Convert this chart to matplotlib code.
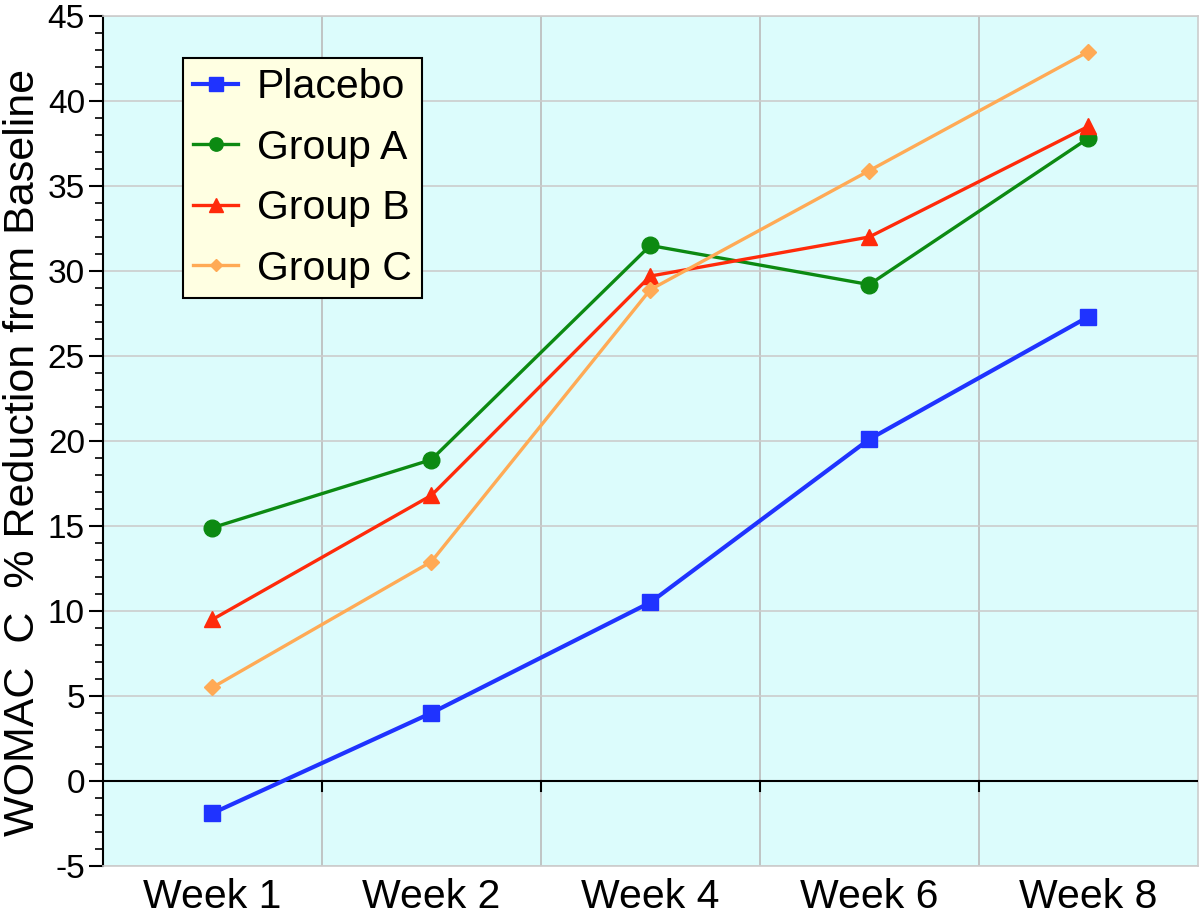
import numpy as np
import matplotlib
matplotlib.use("Agg")
import matplotlib.pyplot as plt
from matplotlib.ticker import MultipleLocator

plt.rcParams['font.family'] = ['Liberation Sans', 'DejaVu Sans']
plt.rcParams['axes.unicode_minus'] = False

weeks = ["Week 1", "Week 2", "Week 4", "Week 6", "Week 8"]
placebo = [-1.9, 4.0, 10.5, 20.1, 27.3]
group_a = [14.9, 18.9, 31.5, 29.2, 37.8]
group_b = [9.5, 16.8, 29.7, 32.0, 38.5]
group_c = [5.5, 12.9, 28.9, 35.9, 42.9]

fig = plt.figure(figsize=(12, 9.24), dpi=100)
ax = fig.add_axes([0.0858, 0.0628, 0.9122, 0.9199])
ax.set_facecolor('#dcfcfc')

x = np.arange(len(weeks))
ax.plot(x, placebo, color='#1f33ff', lw=3, marker='s', ms=12, label='Placebo', zorder=5)
ax.plot(x, group_a, color='#0c8a12', lw=2.4, marker='o', ms=12, label='Group A', zorder=5)
ax.plot(x, group_b, color='#ff2a0a', lw=2.4, marker='^', ms=12, label='Group B', zorder=5)
ax.plot(x, group_c, color='#ffaa55', lw=2.4, marker='D', ms=8, label='Group C', zorder=5)

ax.set_xlim(-0.5, len(weeks) - 0.5)
ax.set_ylim(-5, 45)

# grid: vertical lines between categories, horizontal every 5
bounds = np.arange(0.5, len(weeks) - 0.5)
for b in bounds:
    ax.axvline(b, color='#bbbbbb', lw=1.2, zorder=1)
    ax.plot([b, b], [0, -0.6], color='black', lw=1.5, zorder=3)
for yv in range(-5, 46, 5):
    if yv != 0:
        ax.axhline(yv, color='#cccccc', lw=1.2, zorder=1)
ax.axhline(0, color='black', lw=1.5, zorder=3)

ax.set_xticks(x)
ax.set_xticklabels(weeks, fontsize=29.5)
ax.tick_params(axis='x', length=0, pad=9)
ax.yaxis.set_major_locator(MultipleLocator(5))
ax.yaxis.set_minor_locator(MultipleLocator(1))
ax.tick_params(axis='y', which='major', direction='out', length=10, width=1.5, labelsize=24, pad=3)
ax.tick_params(axis='y', which='minor', direction='out', length=6, width=1.2)

for s in ['top', 'right', 'bottom']:
    ax.spines[s].set_color('#cccccc')
    ax.spines[s].set_linewidth(1.2)
ax.spines['left'].set_color('black')
ax.spines['left'].set_linewidth(1.5)

ax.set_ylabel("WOMAC  C  % Reduction from Baseline", fontsize=31)
ax.yaxis.set_label_coords(-0.055, 0.487)

leg = ax.legend(loc='upper left', bbox_to_anchor=(0.073, 0.9506), fontsize=29.5,
                fancybox=False, framealpha=1, facecolor='#ffffe2', edgecolor='black',
                handlelength=1.1, handletextpad=0.45, borderpad=0.25, labelspacing=0.55,
                borderaxespad=0, markerscale=0.8)
leg.get_frame().set_linewidth(1.5)

fig.savefig("out.png", dpi=100)
